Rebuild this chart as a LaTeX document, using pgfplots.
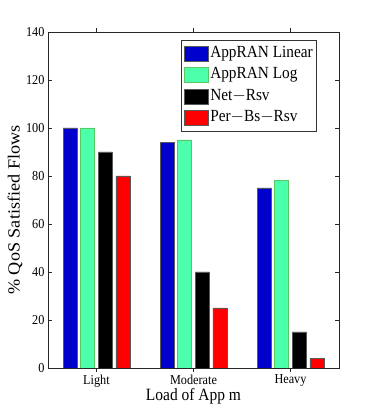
\documentclass[border=0pt]{standalone}
\usepackage{fontspec}
\setmainfont[FakeStretch=0.9]{Liberation Serif}
\newfontfamily\vfont[FakeStretch=1.07]{Liberation Serif}
\usepackage{pgfplots}
\pgfplotsset{compat=1.18}
\definecolor{cblue}{rgb}{0,0,0.8}
\definecolor{cgreen}{rgb}{0.3,1,0.67}
\definecolor{edgegray}{rgb}{0.35,0.35,0.35}
\definecolor{edgegreen}{rgb}{0.35,0.78,0.4}
\begin{document}
\begin{tikzpicture}[x=1pt,y=1pt]
\path[use as bounding box] (0,0) rectangle (374,415);
\begin{axis}[
  at={(48pt,47pt)}, anchor=south west,
  scale only axis, width=291pt, height=336pt,
  xmin=0.5, xmax=3.5, ymin=0, ymax=140,
  xtick={1,2,3}, xticklabels={Light,Moderate,Heavy},
  ytick={0,20,...,140},
  tick align=inside, tick pos=both, major tick length=4pt,
  minor tick num=0,
  axis line style={black!85, line width=0.7pt},
  every tick/.style={black!85, line width=0.5pt},
  ticklabel style={font=\fontsize{13.6}{15}\selectfont},
  xticklabel style={yshift=0.5pt},
  /pgf/number format/assume math mode=true,
  xlabel={Load of App m},
  xlabel style={font=\fontsize{17.2}{19}\selectfont, at={(axis description cs:0.5,0)}, anchor=north, inner sep=0pt, yshift=-20.5pt},
  ylabel={\vfont\% QoS Satisfied Flows},
  ylabel style={font=\fontsize{17}{19}\selectfont, at={(axis description cs:0,0.47)}, anchor=center, inner sep=0pt, yshift=33pt},
  ybar=3.6pt, bar width=14pt,
  legend image code/.code={\draw[#1] (0pt,-7.5pt) rectangle (24pt,7.5pt);},
  legend style={at={(1,1)}, anchor=north east, xshift=-22pt, yshift=-8pt,
    draw=black!80, line width=0.6pt, fill=white, inner sep=2.5pt,
    font=\fontsize{17}{19}\selectfont,
    nodes={inner ysep=3.5pt, inner xsep=1.5pt, text height=11pt, text depth=3.5pt},
    row sep=0pt, cells={anchor=west}},
  legend cell align=left,
]
\addplot[fill=cblue, draw=edgegray, line width=0.6pt] coordinates {(1,100) (2,94) (3,75)};
\addplot[fill=cgreen, draw=edgegreen, line width=0.6pt] coordinates {(1,100) (2,95) (3,78)};
\addplot[fill=black, draw=edgegray, line width=0.6pt] coordinates {(1,90) (2,40) (3,15)};
\addplot[fill=red, draw=edgegray, line width=0.6pt] coordinates {(1,80) (2,25) (3,4)};
\legend{AppRAN Linear, AppRAN Log, Net$-$Rsv, Per$-$Bs$-$Rsv}
\end{axis}
\end{tikzpicture}
\end{document}
